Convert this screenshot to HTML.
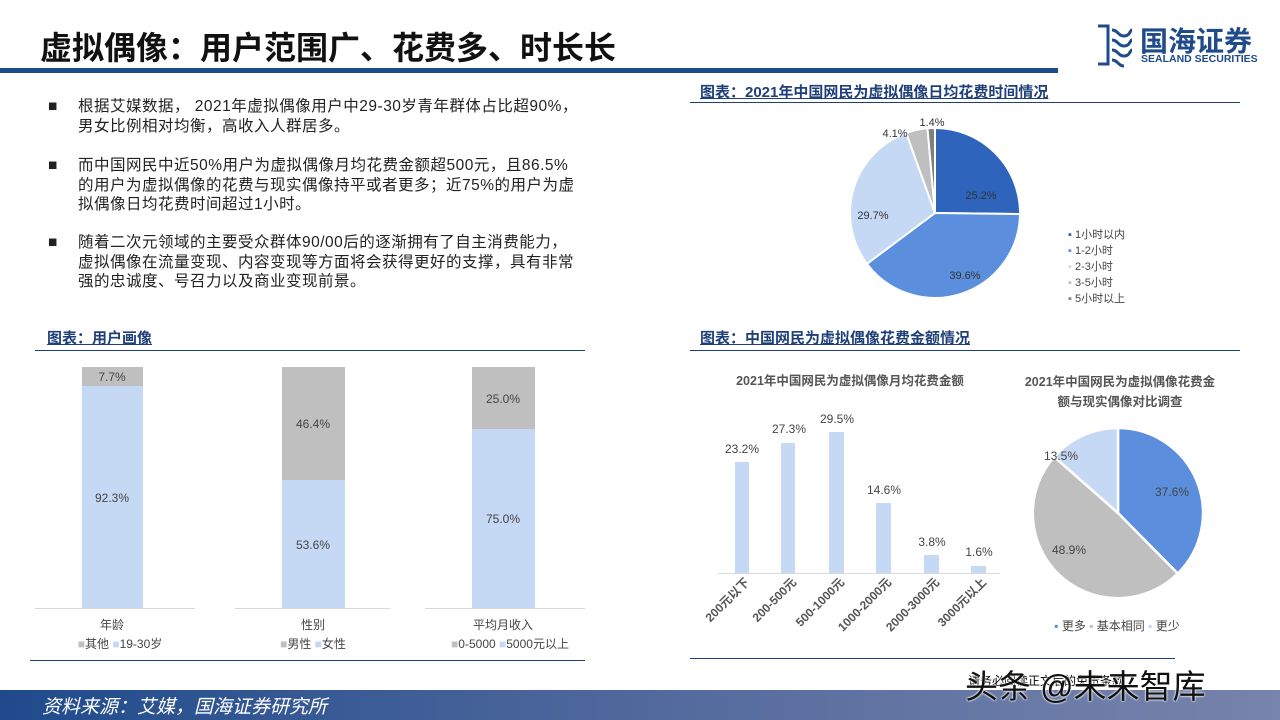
<!DOCTYPE html>
<html><head><meta charset="utf-8"><style>
body{margin:0;width:1280px;height:720px;position:relative;background:#fff;font-family:"Liberation Sans","Noto Sans CJK SC",sans-serif;overflow:hidden}
.a{position:absolute;white-space:nowrap}
.p{font-size:15.5px;color:#222;line-height:19.5px;letter-spacing:0.5px}
.h{font-size:15px;font-weight:bold;color:#1f3f7a;text-decoration:underline}
</style></head><body>
<div class="a" style="left:40px;top:23px;font-size:32px;font-weight:bold;color:#111">虚拟偶像：用户范围广、花费多、时长长</div>
<div class="a" style="left:0;top:68px;width:1058px;height:5px;background:#1f4a8c"></div>
<svg class="a" style="left:1094px;top:22px" width="40" height="46"><g fill="none" stroke="#1f4a8c" stroke-width="3"><path d="M4 4h10v38H4M18 8c6 0 6 6 12 6s6-6 8-6M18 18c6 0 6 6 12 6s6-6 8-6M18 28c6 0 6 6 12 6s6-6 8-6M18 38c6 0 6 6 12 6"/></g></svg>
<div class="a" style="left:1140px;top:20px;font-size:28px;font-weight:bold;color:#1f4a8c">国海证券</div>
<div class="a" style="left:1141px;top:53px;font-size:10.5px;font-weight:bold;color:#1f4a8c">SEALAND SECURITIES</div>

<div class="a p" style="left:48px;top:97px">■</div>
<div class="a p" style="left:78px;top:97px">根据艾媒数据， 2021年虚拟偶像用户中29-30岁青年群体占比超90%，<br>男女比例相对均衡，高收入人群居多。</div>
<div class="a p" style="left:48px;top:156px">■</div>
<div class="a p" style="left:78px;top:156px">而中国网民中近50%用户为虚拟偶像月均花费金额超500元，且86.5%<br>的用户为虚拟偶像的花费与现实偶像持平或者更多；近75%的用户为虚<br>拟偶像日均花费时间超过1小时。</div>
<div class="a p" style="left:48px;top:233px">■</div>
<div class="a p" style="left:78px;top:233px">随着二次元领域的主要受众群体90/00后的逐渐拥有了自主消费能力，<br>虚拟偶像在流量变现、内容变现等方面将会获得更好的支撑，具有非常<br>强的忠诚度、号召力以及商业变现前景。</div>

<div class="a h" style="left:47px;top:327px">图表：用户画像</div>
<div class="a" style="left:35px;top:350px;width:550px;height:1px;background:#1f3f7a"></div>
<svg class="a" style="left:0;top:0" width="1280" height="720" font-family="Liberation Sans,Noto Sans CJK SC,sans-serif">
<g font-size="12" fill="#444" text-anchor="middle">
<rect x="82" y="367" width="61" height="19" fill="#bfbfbf"/><rect x="82" y="386" width="61" height="222" fill="#c5d8f4"/>
<text x="112" y="381">7.7%</text><text x="112" y="502">92.3%</text>
<rect x="282" y="367" width="63" height="113" fill="#bfbfbf"/><rect x="282" y="480" width="63" height="128" fill="#c5d8f4"/>
<text x="313" y="428">46.4%</text><text x="313" y="549">53.6%</text>
<rect x="472" y="367" width="63" height="62" fill="#bfbfbf"/><rect x="472" y="429" width="63" height="179" fill="#c5d8f4"/>
<text x="503" y="403">25.0%</text><text x="503" y="523">75.0%</text>
<path d="M35 608.5H195M235 608.5H390M425 608.5H585" stroke="#d9d9d9"/>
<text x="112" y="629">年龄</text><text x="313" y="629">性别</text><text x="503" y="629">平均月收入</text>
<text x="120" y="648"><tspan fill="#bfbfbf">■</tspan>其他 <tspan fill="#c5d8f4">■</tspan>19-30岁</text>
<text x="313" y="648"><tspan fill="#bfbfbf">■</tspan>男性 <tspan fill="#c5d8f4">■</tspan>女性</text>
<text x="510" y="648"><tspan fill="#bfbfbf">■</tspan>0-5000 <tspan fill="#c5d8f4">■</tspan>5000元以上</text>
</g>
<path d="M30 660.5H585" stroke="#1f3f7a"/>

<g stroke="#fff" stroke-width="2">
<path d="M935 213V128A85 85 0 0 1 1020 214.1Z" fill="#2e64bb"/>
<path d="M935 213L1020 214.1A85 85 0 0 1 866.9 263.8Z" fill="#5b8fdd"/>
<path d="M935 213L866.9 263.8A85 85 0 0 1 906.2 133Z" fill="#c5d8f4"/>
<path d="M935 213L906.2 133A85 85 0 0 1 927.5 128.3Z" fill="#bfbfbf"/>
<path d="M935 213L927.5 128.3A85 85 0 0 1 935 128Z" fill="#7f7f7f"/>
</g>
<g font-size="11" fill="#333" text-anchor="middle">
<text x="981" y="199">25.2%</text><text x="965" y="279">39.6%</text><text x="873" y="219">29.7%</text>
<text x="895" y="137">4.1%</text><text x="932" y="126">1.4%</text>
</g>
<g font-size="11" fill="#444">
<text x="1068" y="238"><tspan fill="#2e64bb">▪</tspan> 1小时以内</text>
<text x="1068" y="254"><tspan fill="#5b8fdd">▪</tspan> 1-2小时</text>
<text x="1068" y="270"><tspan fill="#c5d8f4">▪</tspan> 2-3小时</text>
<text x="1068" y="286"><tspan fill="#bfbfbf">▪</tspan> 3-5小时</text>
<text x="1068" y="302"><tspan fill="#7f7f7f">▪</tspan> 5小时以上</text>
</g>

<text x="850" y="385" font-size="12.5" font-weight="bold" fill="#555" text-anchor="middle">2021年中国网民为虚拟偶像月均花费金额</text>
<g fill="#c5d8f4">
<rect x="735" y="462" width="14" height="111"/><rect x="781" y="443" width="14" height="130"/>
<rect x="829" y="432" width="15" height="141"/><rect x="876" y="503" width="15" height="70"/>
<rect x="924" y="555" width="15" height="18"/><rect x="971" y="566" width="15" height="7"/>
</g>
<path d="M718 573.5H1000" stroke="#d9d9d9"/>
<g font-size="12" fill="#444" text-anchor="middle">
<text x="742" y="453">23.2%</text><text x="789" y="433">27.3%</text><text x="837" y="423">29.5%</text>
<text x="884" y="494">14.6%</text><text x="932" y="546">3.8%</text><text x="979" y="556">1.6%</text>
</g>
<g font-size="12" font-weight="bold" fill="#555" text-anchor="end">
<text transform="translate(750,583) rotate(-45)">200元以下</text>
<text transform="translate(797,583) rotate(-45)">200-500元</text>
<text transform="translate(845,583) rotate(-45)">500-1000元</text>
<text transform="translate(892,583) rotate(-45)">1000-2000元</text>
<text transform="translate(940,583) rotate(-45)">2000-3000元</text>
<text transform="translate(987,583) rotate(-45)">3000元以上</text>
</g>

<g font-size="12.5" font-weight="bold" fill="#555" text-anchor="middle">
<text x="1120" y="386">2021年中国网民为虚拟偶像花费金</text><text x="1120" y="406">额与现实偶像对比调查</text>
</g>
<g stroke="#fff" stroke-width="2.5">
<path d="M1118 513V428A85 85 0 0 1 1177.7 573.5Z" fill="#5b8fdd"/>
<path d="M1118 513L1177.7 573.5A85 85 0 0 1 1054.2 456.8Z" fill="#bfbfbf"/>
<path d="M1118 513L1054.2 456.8A85 85 0 0 1 1118 428Z" fill="#c5d8f4"/>
</g>
<g font-size="12" fill="#444" text-anchor="middle">
<text x="1172" y="496">37.6%</text><text x="1069" y="554">48.9%</text><text x="1061" y="460">13.5%</text>
<text x="1117" y="630"><tspan fill="#5b8fdd">▪</tspan> 更多 <tspan fill="#bfbfbf">▪</tspan> 基本相同 <tspan fill="#c5d8f4">▪</tspan> 更少</text>
</g>
<path d="M690 658.5H1175" stroke="#1f3f7a"/>
</svg>

<div class="a h" style="left:700px;top:81px">图表：2021年中国网民为虚拟偶像日均花费时间情况</div>
<div class="a" style="left:690px;top:102px;width:550px;height:1px;background:#1f3f7a"></div>
<div class="a h" style="left:700px;top:327px">图表：中国网民为虚拟偶像花费金额情况</div>
<div class="a" style="left:690px;top:350px;width:550px;height:1px;background:#1f3f7a"></div>

<div class="a" style="left:0;top:690px;width:1280px;height:30px;background:linear-gradient(90deg,#1f4a8c,#5a6fa0 60%,#7784ab)"></div>
<div class="a" style="left:42px;top:692px;font-size:19px;font-style:italic;color:#fff">资料来源：艾媒，国海证券研究所</div>
<div class="a" style="left:968px;top:672px;font-size:12px;color:#000">请务必阅读正文后的免责条款</div>
<div class="a" style="left:965px;top:660px;font-size:33px;color:#111;text-shadow:0 0 2px #fff,0 0 2px #fff">头条 @未来智库</div>
</body></html>
